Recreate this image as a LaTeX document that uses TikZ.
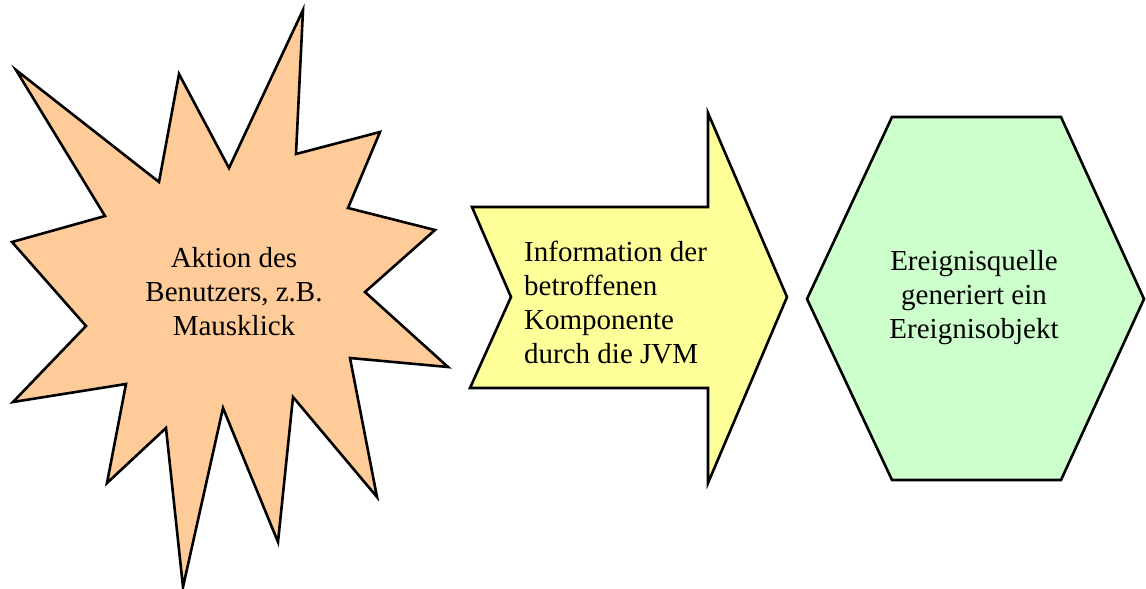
\documentclass[tikz,border=0pt]{standalone}
\usepackage{fontspec}
\setmainfont{Liberation Serif}
\usetikzlibrary{positioning}

\definecolor{peach}{HTML}{FFCC99}
\definecolor{paleyellow}{HTML}{FFFF99}
\definecolor{palegreen}{HTML}{CCFFCC}

\tikzset{
    outline/.style={draw=black, line width=2.6pt, line join=miter},
    label text/.style={inner sep=0pt, font=\fontsize{29}{34}\selectfont}
}

\begin{document}
\begin{tikzpicture}[x=1pt, y=-1pt]
    \useasboundingbox (0,0) rectangle (1146,589);
    % explosion star on the left
    \filldraw[outline, fill=peach]
        (16,70) -- (159,182) -- (179,74) -- (229,168) -- (303,10) -- (296,154)
        -- (380,132) -- (348,208) -- (435,230) -- (365,292) -- (448,367)
        -- (350,358) -- (377,497) -- (293,397) -- (278,542) -- (223,408)
        -- (183,587) -- (166,428) -- (107,483) -- (126,384) -- (13,402)
        -- (86,326) -- (12,242) -- (105,216) -- cycle;
    \node[label text, align=center] (aktion) at (234,292)
        {Aktion des\\Benutzers, z.B.\\Mausklick};
    % notched block arrow in the middle
    \filldraw[outline, fill=paleyellow]
        (472,207) -- (708,207) -- (708,113) -- (787,297) -- (708,483)
        -- (708,388) -- (470,388) -- (511,297) -- cycle;
    \node[label text, align=left, anchor=west] (info) at (524,303)
        {Information der\\betroffenen\\Komponente\\durch die JVM};
    % hexagon on the right
    \filldraw[outline, fill=palegreen]
        (892,117) -- (1061,117) -- (1144,299) -- (1061,480) -- (892,480)
        -- (807,299) -- cycle;
    \node[label text, align=center] (quelle) at (974,298)
        {Ereignisquelle\\generiert ein\\Ereignisobjekt};
\end{tikzpicture}
\end{document}
